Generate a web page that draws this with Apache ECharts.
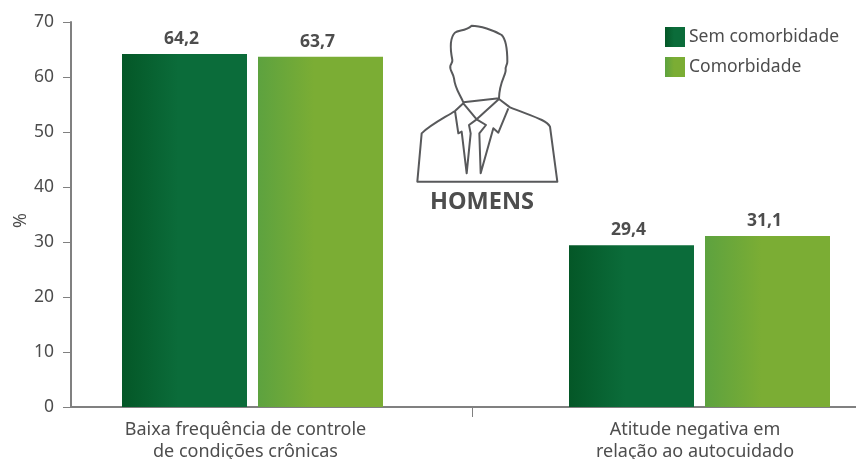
<!DOCTYPE html>
<html><head><meta charset="utf-8">
<style>html,body{margin:0;padding:0;background:#fff}#c{width:856px;height:459px}</style>
<script src="https://cdn.jsdelivr.net/npm/echarts@6/dist/echarts.min.js"></script>
</head><body><div id="c"></div>
<script>
const categories = ["Baixa frequência de controle\nde condições crônicas", "Atitude negativa em\nrelação ao autocuidado"];
const semComorbidade = [64.2, 29.4];
const comorbidade = [63.7, 31.1];
const yTicks = [0, 10, 20, 30, 40, 50, 60, 70];
const labelPositions = [245.5, 695];
const dividerPositions = [472];
const FONT = '"Noto Sans", sans-serif';
const TEXT = '#4d4d4d', AXIS = '#808080';
const grad = (a, b) => ({type:'linear',x:0,y:0,x2:1,y2:0,colorStops:[{offset:0,color:a},{offset:0.45,color:b},{offset:1,color:b}]});
const personPath = 'M190 277 C178 250 165 235 162 205 C160 190 148 180 151 168 C153 160 158 158 157 150 C150 115 148 85 165 68 C175 58 195 65 215 47 C240 47 280 60 305 75 C320 90 322 125 322 155 C322 165 315 170 317 180 C318 195 298 215 297 265 Z ' +
 'M52 515 L472 515 L450 350 C440 330 400 320 330 292 L297 267 L230 328 L190 280 L165 303 C130 325 90 345 65 370 Z ' +
 'M165 303 L175 370 L185 365 L200 490 L212 370 L207 345 L230 328 L258 345 L238 370 L242 490 L280 355 L295 368 L325 295';
echarts.graphic.registerShape('person', echarts.graphic.extendPath(personPath, {}));
const chart = echarts.init(document.getElementById('c'), null, {renderer:'canvas'});
const barLabel = {show:true, position:'top', distance:6, offset:[-3,0], color:TEXT, fontFamily:FONT, fontSize:17.5, fontWeight:'bold',
  formatter:p => String(p.value).replace('.', ',')};
chart.setOption({
  animation:false, backgroundColor:'#fff',
  textStyle:{fontFamily:FONT},
  legend:{orient:'vertical', left:665, top:27, padding:0, itemWidth:20, itemHeight:20, itemGap:10,
    textStyle:{color:TEXT, fontFamily:FONT, fontSize:17.5, padding:[2,0,0,-1]},
    data:[{name:'Sem comorbidade', icon:'rect'},{name:'Comorbidade', icon:'rect'}]},
  grid:[
    {left:71, right:0, top:22, bottom:52, outerBoundsMode:'none'},
    {left:29, width:894, top:22, bottom:52, outerBoundsMode:'none'}
  ],
  xAxis:[
    {gridIndex:0, type:'value', min:71, max:856, splitLine:{show:false},
     axisLine:{show:true, onZero:false, lineStyle:{color:AXIS, width:2}},
     axisTick:{show:true, customValues:dividerPositions, length:10, lineStyle:{color:AXIS, width:1}},
     axisLabel:{show:true, customValues:labelPositions, margin:12, color:TEXT, fontFamily:FONT, fontSize:18, lineHeight:22,
       formatter:v => categories[labelPositions.indexOf(v)] || ''}},
    {gridIndex:1, type:'category', data:categories, show:false}
  ],
  yAxis:[
    {gridIndex:0, type:'value', min:0, max:70, interval:10, splitLine:{show:false},
     name:'%', nameLocation:'middle', nameGap:41, nameMoveOverlap:false, nameTextStyle:{color:TEXT, fontFamily:FONT, fontSize:18, padding:[0,12,0,0]},
     axisLine:{show:true, lineStyle:{color:AXIS, width:2}},
     axisTick:{show:true, length:8, lineStyle:{color:AXIS, width:1}},
     axisLabel:{margin:17, color:TEXT, fontFamily:FONT, fontSize:17.5, formatter:v => yTicks.includes(v) ? String(v) : ''}},
    {gridIndex:1, type:'value', min:0, max:70, show:false}
  ],
  series:[
    {name:'Sem comorbidade', type:'bar', xAxisIndex:1, yAxisIndex:1, data:semComorbidade, barWidth:125, barGap:'8.8%',
     itemStyle:{color:grad('#045727','#0b6c3a')}, label:barLabel},
    {name:'Comorbidade', type:'bar', xAxisIndex:1, yAxisIndex:1, data:comorbidade, barWidth:125, barGap:'8.8%',
     itemStyle:{color:grad('#5da23f','#7bad34')}, label:barLabel}
  ],
  graphic:[
    {type:'person', x:400, y:10, scaleX:1/3, scaleY:1/3, z:10,
     style:{fill:'none', stroke:'#58595b', lineWidth:6, lineJoin:'round'}},
    {type:'text', x:482, y:202, z:10, style:{text:'HOMENS', fill:TEXT, font:'bold 23.5px '+FONT, textAlign:'center', textVerticalAlign:'middle'}}
  ]
});
</script></body></html>
